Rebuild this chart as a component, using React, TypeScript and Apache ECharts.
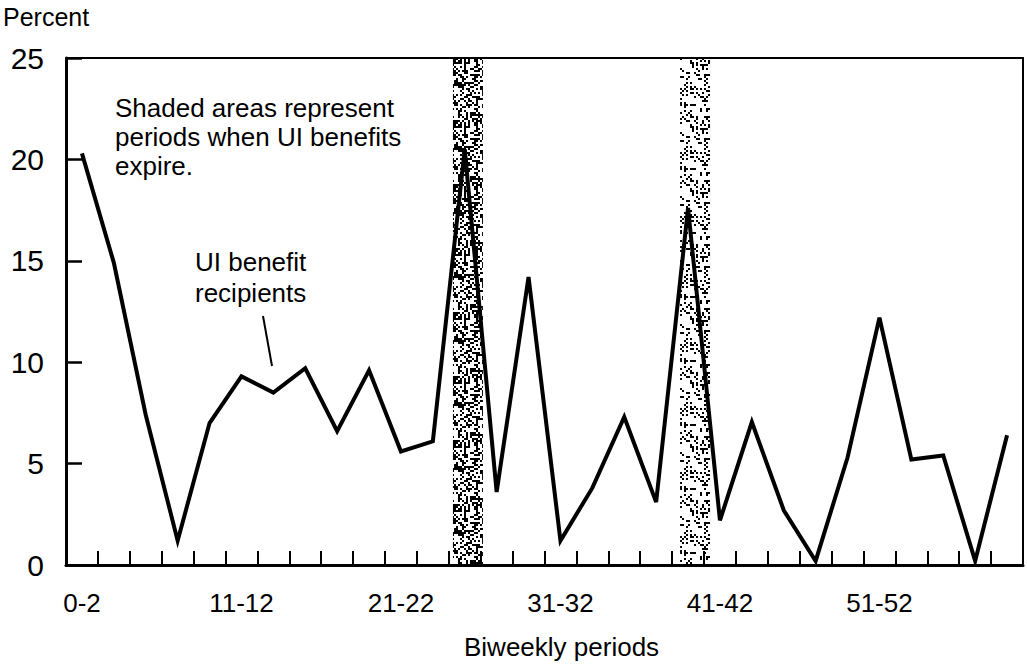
import React, { useEffect, useRef } from "react";
import * as echarts from "echarts";

const periods: string[] = [
  "0-2", "3-4", "5-6", "7-8", "9-10", "11-12", "13-14", "15-16", "17-18", "19-20",
  "21-22", "23-24", "25-26", "27-28", "29-30", "31-32", "33-34", "35-36", "37-38", "39-40",
  "41-42", "43-44", "45-46", "47-48", "49-50", "51-52", "53-54", "55-56", "57-58", "59-60",
];

const uiRecipients: number[] = [
  20.3, 14.9, 7.4, 1.2, 7.0, 9.3, 8.5, 9.7, 6.6, 9.6,
  5.6, 6.1, 20.5, 3.6, 14.2, 1.2, 3.8, 7.3, 3.1, 17.6,
  2.2, 7.05, 2.7, 0.2, 5.3, 12.2, 5.2, 5.4, 0.2, 6.4,
];

const yTicks: number[] = [0, 5, 10, 15, 20, 25];

// shaded periods (in category-band units along the x axis) and their stipple density
const shadedStart: number[] = [12.13, 19.25];
const shadedEnd: number[] = [13.07, 20.19];
const shadedDensity: number[] = [0.5, 0.24];

const FONT = "Liberation Sans, Arial, Helvetica, sans-serif";

function makeStipple(density: number): HTMLCanvasElement {
  const size = 64;
  const c = document.createElement("canvas");
  c.width = size;
  c.height = size;
  const ctx = c.getContext("2d")!;
  ctx.fillStyle = "#000";
  for (let y = 0; y < size; y += 2) {
    for (let x = 0; x < size; x += 2) {
      let h = (x * 374761393 + y * 668265263) | 0;
      h = Math.imul(h ^ (h >>> 13), 1274126177);
      h = h ^ (h >>> 16);
      const r = ((h >>> 0) % 1000) / 1000;
      if (r < density) ctx.fillRect(x, y, 2, 2);
    }
  }
  return c;
}

export default function App() {
  const ref = useRef<HTMLDivElement>(null);
  useEffect(() => {
    if (!ref.current) return;
    const chart = echarts.init(ref.current, null, { renderer: "svg" });
    const areas = shadedStart.map((s, i) => [
      {
        xAxis: s,
        itemStyle: {
          color: { image: makeStipple(shadedDensity[i]), repeat: "repeat" } as any,
        },
      },
      { xAxis: shadedEnd[i] },
    ]);
    const yMin = yTicks[0];
    const yMax = yTicks[yTicks.length - 1];

    chart.setOption({
      animation: false,
      backgroundColor: "#fff",
      textStyle: { fontFamily: FONT, color: "#000" },
      grid: { left: 66, right: 4, top: 58, bottom: 99, show: false },
      xAxis: [
        {
          type: "category",
          data: periods,
          boundaryGap: true,
          position: "bottom",
          axisLine: { show: true, onZero: false, lineStyle: { color: "#000", width: 3 } },
          axisTick: {
            show: true,
            inside: true,
            length: 14,
            interval: 0,
            lineStyle: { color: "#000", width: 2 },
          },
          axisLabel: { show: true, interval: 4, fontSize: 26, color: "#000", fontFamily: FONT, margin: 25 },
          splitLine: { show: false },
        },
        { type: "value", min: 0, max: 30, show: false },
        {
          type: "category",
          data: periods,
          position: "top",
          axisLine: { show: true, onZero: false, lineStyle: { color: "#000", width: 2 } },
          axisTick: { show: false },
          axisLabel: { show: false },
        },
      ],
      yAxis: [
        {
          type: "value",
          min: yMin,
          max: yMax,
          interval: 5,
          position: "left",
          axisLine: { show: true, onZero: false, lineStyle: { color: "#000", width: 3 } },
          axisTick: { show: true, inside: true, length: 16, lineStyle: { color: "#000", width: 2.5 } },
          axisLabel: { fontSize: 30, color: "#000", fontFamily: FONT, margin: 22 },
          splitLine: { show: false },
        },
        {
          type: "value",
          min: yMin,
          max: yMax,
          interval: 5,
          position: "right",
          axisLine: { show: true, onZero: false, lineStyle: { color: "#000", width: 2 } },
          axisTick: { show: false },
          axisLabel: { show: false },
          splitLine: { show: false },
        },
      ],
      series: [
        {
          type: "line",
          xAxisIndex: 1,
          data: [],
          silent: true,
          z: 1,
          markArea: { silent: true, data: areas },
        },
        {
          type: "line",
          name: "UI benefit recipients",
          xAxisIndex: 0,
          yAxisIndex: 0,
          data: uiRecipients,
          symbol: "none",
          z: 5,
          lineStyle: { color: "#000", width: 4, join: "miter" } as any,
        },
      ],
      graphic: [
        { type: "text", left: 3, top: 4, style: { text: "Percent", font: `25px ${FONT}`, fill: "#000" } },
        {
          type: "text",
          left: 115,
          top: 93,
          style: {
            text: "Shaded areas represent\nperiods when UI benefits\nexpire.",
            font: `26px ${FONT}`,
            lineHeight: 29,
            fill: "#000",
          },
        },
        {
          type: "text",
          left: 195,
          top: 246,
          style: { text: "UI benefit\nrecipients", font: `26px ${FONT}`, lineHeight: 31, fill: "#000" },
        },
        { type: "line", shape: { x1: 263, y1: 316, x2: 272, y2: 366 }, style: { stroke: "#000", lineWidth: 2 } },
        { type: "text", left: 464, top: 634, style: { text: "Biweekly periods", font: `26px ${FONT}`, fill: "#000" } },
      ],
    });
    return () => chart.dispose();
  }, []);
  return (
    <div ref={ref} style={{ position: "fixed", left: 0, top: 0, width: 1027, height: 664, background: "#fff" }} />
  );
}
